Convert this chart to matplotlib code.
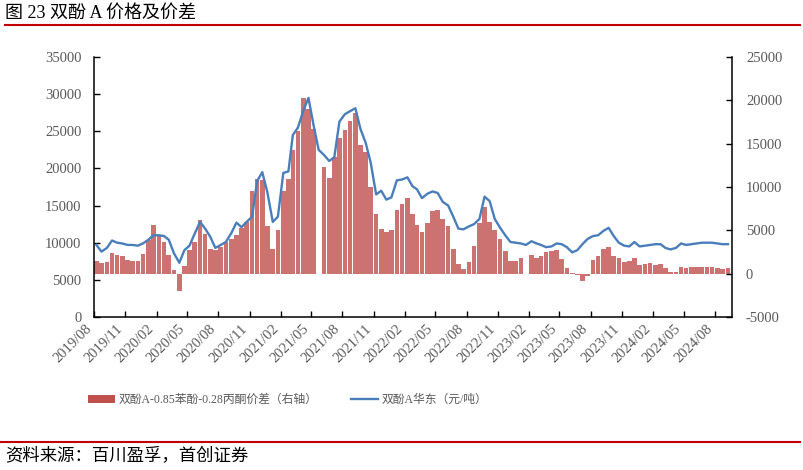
import matplotlib
matplotlib.use("Agg")
import matplotlib.pyplot as plt
from matplotlib.patches import Patch
from matplotlib.lines import Line2D
import numpy as np
import pandas as pd

plt.rcParams["font.family"] = ["Liberation Serif", "Noto Sans CJK SC"]
plt.rcParams["axes.unicode_minus"] = False

nan = np.nan

# 双酚A华东 (元/吨), two readings per month (about the 8th and 23rd)
price_2019 = [9700, 8800, 9300, 10300, 10000, 9900, 9700, 9700, 9600, 9900]
price_2020 = [10400, 11000, 11000, 10900, 10400, 8600, 7300, 9000, 9600, 11200,
              12800, 11900, 10800, 9300, 9700, 10100, 11300, 12700, 12100, 12800,
              13500, 18300, 19500, 16800]
price_2021 = [12800, 13500, 19400, 19600, 24500, 25500, 27800, 29500, 25800, 22500,
              21800, 21000, 21500, 26300, 27300, 27700, 28100, 25300, 23500, 20800,
              16500, 17000, 15800, 16100]
price_2022 = [18400, 18500, 18800, 17600, 17200, 16000, 16600, 16900, 16700, 15500,
              15000, 13500, 11900, 11800, 12200, 12500, 13200, 16200, 15600, 13200,
              12000, 11000, 10100, 10000]
price_2023 = [9900, 9700, 10200, 9900, 9700, 9400, 9500, 9900, 9800, 9400,
              8700, 9000, 9800, 10500, 10900, 11000, 11600, 12000, 10900, 10000,
              9600, 9500, 10100, 9500]
price_2024 = [9600, 9700, 9800, 9800, 9300, 9100, 9300, 9900, 9700, 9800,
              9900, 10000, 10000, 10000, 9900, 9800, 9800]

# 双酚A-0.85苯酚-0.28丙酮价差 (右轴)
spread_2019 = [1500, 1200, 1400, 2400, 2200, 2000, 1600, 1450, 1500, 2300]
spread_2020 = [3900, 5600, 4300, 3700, 2200, 400, -2000, 900, 2700, 3700,
               6200, 4600, 2900, 2700, 3100, 3600, 4000, 4500, 5300, 6000,
               9500, 10900, 10800, 5500]
spread_2021 = [2900, 5000, 9500, 10900, 14300, 16500, 20300, 19000, 16700, nan,
               12300, 11000, 13500, 15600, 16600, 17600, 18500, 14800, 14000, 10000,
               6900, 5200, 4800, 5000]
spread_2022 = [7300, 8000, 8700, 6900, 5600, 4800, 5800, 7200, 7400, 6300,
               5500, 2800, 1100, 550, 1400, 3200, 5900, 7700, 6000, 5000,
               4000, 2600, 1500, 1500]
spread_2023 = [1800, nan, 2200, 1800, 2000, 2500, 2600, 2700, 1700, 700,
               100, -100, -800, -300, 1600, 2000, 2900, 3100, 2000, 1800,
               1300, 1500, 1800, 1000]
spread_2024 = [1100, 1200, 950, 1100, 600, 150, 150, 800, 700, 750,
               800, 800, 800, 750, 650, 550, 600]

label_bar = "双酚A-0.85苯酚-0.28丙酮价差（右轴）"
label_line = "双酚A华东（元/吨）"

price = np.array(price_2019 + price_2020 + price_2021 + price_2022 + price_2023 + price_2024, dtype=float)
spread = np.array(spread_2019 + spread_2020 + spread_2021 + spread_2022 + spread_2023 + spread_2024, dtype=float)

months = pd.date_range("2019-08-01", periods=62, freq="MS")
dates = [m + pd.Timedelta(days=off) for m in months for off in (7, 22)][: len(price)]
tick_dates = pd.date_range("2019-08-01", "2024-08-01", freq="3MS")

W, H = 804, 470
fig = plt.figure(figsize=(W / 100, H / 100), dpi=100)
ax1 = fig.add_axes([94 / W, 1 - 317 / H, (732 - 94) / W, (317 - 57) / H])
ax2 = ax1.twinx()

ax2.bar(dates, spread, width=13.5, color="#C0504D", alpha=0.8, linewidth=0)
ax1.plot(dates, price, color="#4A7EBB", lw=1.7)
ax1.set_zorder(ax2.get_zorder() + 1)
ax1.patch.set_visible(False)

ax1.set_xlim(pd.Timestamp("2019-08-01"), pd.Timestamp("2024-09-20"))
ax1.set_ylim(0, 35000)
ax2.set_ylim(-5000, 25000)
ax1.set_yticks(range(0, 35001, 5000))
ax2.set_yticks(range(-5000, 25001, 5000))
ax1.set_xticks(tick_dates)
ax1.set_xticklabels([d.strftime("%Y/%m") for d in tick_dates], rotation=45, ha="right")

for ax in (ax1, ax2):
    ax.spines["top"].set_visible(False)
    for s in ax.spines.values():
        s.set_color("black")
        s.set_linewidth(1.1)
ax1.spines["right"].set_visible(False)
ax2.spines["left"].set_visible(False)
ax2.spines["bottom"].set_visible(False)

tick_kw = dict(direction="in", length=4, width=1, labelsize=10.5, labelcolor="#595959")
ax1.tick_params(axis="y", pad=9, **tick_kw)
ax1.tick_params(axis="x", pad=4, **tick_kw)
ax2.tick_params(axis="y", pad=10, **tick_kw)

handles = [Patch(facecolor="#C0504D", edgecolor="none"),
           Line2D([], [], color="#4A7EBB", lw=1.7)]
fig.legend(handles, [label_bar, label_line], loc="center left",
           bbox_to_anchor=(82 / W, 1 - 400 / H), ncol=2, frameon=False,
           fontsize=8.5, handlelength=2.3, handleheight=0.6, handletextpad=0.3,
           columnspacing=2.8, borderpad=0, labelcolor="#595959")

fig.text(5 / W, 1 - 13 / H, "图 23 双酚 A 价格及价差", fontsize=13, va="center", ha="left")
fig.add_artist(Line2D([5 / W, 800 / W], [1 - 25 / H] * 2, color="#C00000", lw=1.5,
                      transform=fig.transFigure))
fig.add_artist(Line2D([0, 800 / W], [1 - 442 / H] * 2, color="#C00000", lw=1.5,
                      transform=fig.transFigure))
fig.text(5 / W, 1 - 457 / H, "资料来源：百川盈孚，首创证券", fontsize=12.5, va="center", ha="left")

fig.savefig("out.png", dpi=100)
